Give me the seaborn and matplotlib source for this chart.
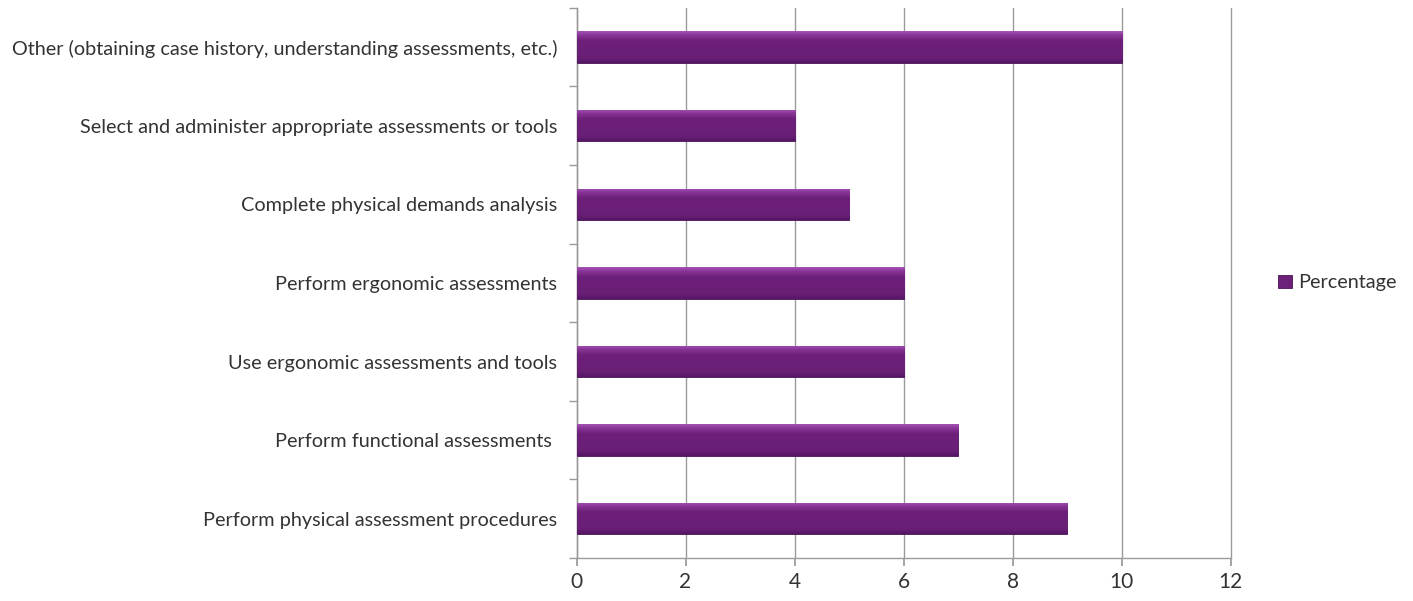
import matplotlib
matplotlib.use("Agg")
import matplotlib.pyplot as plt
import seaborn as sns
import pandas as pd
import numpy as np
from matplotlib.ticker import FixedLocator
from matplotlib.colors import LinearSegmentedColormap

categories = [
    "Other (obtaining case history, understanding assessments, etc.)",
    "Select and administer appropriate assessments or tools",
    "Complete physical demands analysis",
    "Perform ergonomic assessments",
    "Use ergonomic assessments and tools",
    "Perform functional assessments ",
    "Perform physical assessment procedures",
]
values = [10, 4, 5, 6, 6, 7, 9]
series_name = "Percentage"
x_ticks = [0, 2, 4, 6, 8, 10, 12]

df = pd.DataFrame({"category": categories, "value": values, "series": series_name})

sns.set_theme(style="white")
plt.rcParams['font.family'] = ['Lato', 'DejaVu Sans']

fig = plt.figure(figsize=(14.13, 6.01), dpi=100)
ax = fig.add_axes([0.408, 0.0715, 0.463, 0.9155])

sns.barplot(data=df, x="value", y="category", hue="series", orient="h",
            palette=["#6B2177"], saturation=1, width=0.4, edgecolor="#4a1555",
            linewidth=0.6, ax=ax, zorder=3)

# gradient sheen on bars (styling only, uses the library's bar geometry)
cmap = LinearSegmentedColormap.from_list(
    "sheen", [(0.0, "#a552b5"), (0.12, "#8a3598"), (0.3, "#6d2079"),
              (0.85, "#6a1f77"), (1.0, "#551664")])
grad = np.linspace(0, 1, 64).reshape(-1, 1)
for p in list(ax.patches):
    x0, y0 = p.get_x(), p.get_y()
    w, h = p.get_width(), p.get_height()
    if w <= 0:
        continue
    im = ax.imshow(grad, cmap=cmap, aspect="auto",
                   extent=[x0, x0 + w, y0 + h, y0], zorder=3.5,
                   interpolation="bicubic")
    im.set_clip_path(p)

ax.set_xlim(0, 12)
ax.set_ylim(6.5, -0.5)
ax.set_xticks(x_ticks)
ax.set_xticklabels([str(t) for t in x_ticks], fontsize=15, color="#333333")
ax.grid(axis="x", color="#9a9a9a", linewidth=1.0, zorder=0)
for gl in ax.get_xgridlines():
    gl.set_clip_on(False)
ax.set_axisbelow(True)
ax.set_xlabel("")
ax.set_ylabel("")

ax.tick_params(axis="y", which="major", length=0, labelsize=14.3, labelcolor="#333333", pad=14)
ax.yaxis.set_minor_locator(FixedLocator(np.arange(-0.5, 7.0, 1.0)))
ax.tick_params(axis="y", which="minor", length=6, color="#9a9a9a", left=True)
ax.tick_params(axis="x", which="major", length=6, color="#9a9a9a", bottom=True, pad=4)

for s in ["top", "right"]:
    ax.spines[s].set_visible(False)
for s in ["left", "bottom"]:
    ax.spines[s].set_color("#9a9a9a")
    ax.spines[s].set_linewidth(1.0)

leg = ax.legend(loc="center left", bbox_to_anchor=(1.045, 0.5), frameon=False,
                fontsize=14.3, handlelength=0.7, handleheight=0.7, handletextpad=0.3)
for t in leg.get_texts():
    t.set_color("#333333")

fig.savefig("out.png", dpi=100)
